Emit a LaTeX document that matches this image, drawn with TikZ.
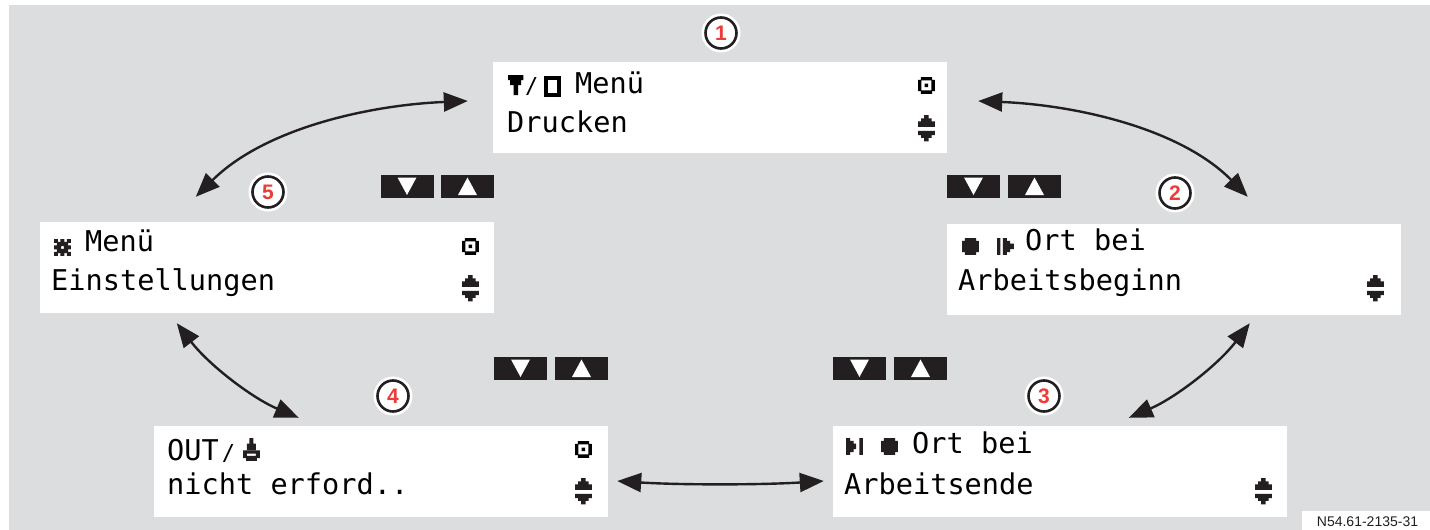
\documentclass[tikz,border=0pt]{standalone}
\usepackage{fontspec}
\setmainfont{Liberation Sans}
\newfontfamily\lcdfont{DejaVu Sans Mono}
\usetikzlibrary{arrows.meta,calc}
\definecolor{ink}{HTML}{231F20}
\definecolor{panelgrey}{HTML}{DCDDDF}
\definecolor{numred}{HTML}{EE3B37}
\tikzset{
  x=1pt,y=-1pt,
  screenbox/.style={rectangle,fill=white,minimum width=454pt,minimum height=91pt,inner sep=0pt},
  lcd/.style={anchor=base west,inner sep=0pt,text=black,font=\lcdfont\fontsize{28.6}{30}\selectfont},
  numcirc/.style={circle,fill=white,draw=ink,line width=2.6pt,minimum size=31pt,inner sep=0pt,
    text=numred,font=\bfseries\fontsize{21}{21}\selectfont,
    preaction={draw=white,line width=8pt}},
  biarrow/.style={draw=ink,line width=2.4pt,{Triangle[length=24pt,width=19pt]}-{Triangle[length=24pt,width=19pt]}},
  keybox/.style={rectangle,fill=ink,minimum width=53pt,minimum height=23pt,inner sep=0pt},
  okicon/.pic={\begin{scope}[x=2.8pt,y=-2.8pt]
    \fill[black] (1,0) rectangle (5,1.2) (1,4.8) rectangle (5,6) (0,1) rectangle (1.2,5) (4.8,1) rectangle (6,5) (2.4,2.4) rectangle (3.6,3.6);
  \end{scope}},
  updownicon/.pic={\begin{scope}[x=2.8pt,y=-2.8pt]
    \fill[ink] (2.2,0) rectangle (3.8,1.2) (1.1,1.2) rectangle (4.9,2.3) (0,2.3) rectangle (6,4.2)
      (0,5.7) rectangle (6,7.2) (1.1,7.2) rectangle (4.9,8.2) (2.2,8.2) rectangle (3.8,9.4);
  \end{scope}},
  discicon/.pic={\begin{scope}[x=2.8pt,y=-2.8pt]
    \fill[ink] (1,0) rectangle (5,6) (0,1) rectangle (6,5);
  \end{scope}},
  startmark/.pic={\begin{scope}[x=2.8pt,y=-2.8pt]
    \fill[ink] (0,0) rectangle (1.2,6) (2.1,0) rectangle (3.5,6) (3.5,1) rectangle (4.7,5) (4.7,2) rectangle (6,4);
  \end{scope}},
  endmark/.pic={\begin{scope}[x=2.8pt,y=-2.8pt]
    \fill[ink] (0,0) rectangle (1.5,6) (1.5,1) rectangle (2.7,5) (2.7,2) rectangle (3.6,4) (4.8,0) rectangle (6,6);
  \end{scope}},
  funnelicon/.pic={\begin{scope}[x=2.8pt,y=-2.8pt]
    \fill[black] (0,0) rectangle (5.5,1.8) (0.8,1.8) rectangle (4.7,3.6) (2,3.6) rectangle (3.6,7.2);
  \end{scope}},
  cardicon/.pic={\draw[black,line width=3.6pt] (1.8,1.8) rectangle (15.2,19.2);},
  gearicon/.pic={\begin{scope}[x=2.8pt,y=-2.8pt]
    \fill[ink,even odd rule] (1,1) rectangle (5,5) (2.5,2.5) rectangle (3.5,3.5);
    \fill[ink] (0,0) rectangle (1.4,1.4) (2.3,0) rectangle (3.7,1.4) (4.6,0) rectangle (6,1.4)
      (0,2.3) rectangle (1.4,3.7) (4.6,2.3) rectangle (6,3.7)
      (0,4.6) rectangle (1.4,6) (2.3,4.6) rectangle (3.7,6) (4.6,4.6) rectangle (6,6);
  \end{scope}},
  bellicon/.pic={\begin{scope}[x=2.8pt,y=-2.8pt]
    \fill[ink] (2.3,0) rectangle (3.7,2) (1.4,2) rectangle (4.6,4.4);
    \fill[ink,even odd rule] (0,4.4) rectangle (6,7.2) (1.4,5.6) rectangle (4.6,6.4);
    \fill[ink] (0.9,7.2) rectangle (5.1,8.3);
  \end{scope}},
  downkey/.pic={\fill[white] (-9.5,-9) -- (9.5,-9) -- (0,8.5) -- cycle;},
  upkey/.pic={\fill[white] (-9.5,8.5) -- (9.5,8.5) -- (0,-9) -- cycle;},
}
\begin{document}
\begin{tikzpicture}
\useasboundingbox (0,0) rectangle (1430,530);
\fill[panelgrey] (9,5) rectangle (1430,530);
\node[rectangle,fill=white,anchor=south east,minimum width=128pt,minimum height=19pt,inner sep=0pt] (reflabel) at (1430,530) {};
\node[anchor=base,inner sep=0pt,text=ink,font=\fontsize{14}{14}\selectfont] (reftext) at (1367.5,526.5) {N54.61-2135-31};

% screens
\node[screenbox] (box1) at (720,107.5) {};
\node[screenbox] (box2) at (1174,269.5) {};
\node[screenbox] (box3) at (1060,471.5) {};
\node[screenbox] (box4) at (381,471.5) {};
\node[screenbox] (box5) at (267,267.5) {};

% screen 1
\pic at (508,75) {funnelicon};
\node[lcd,font=\lcdfont\fontsize{22}{22}\selectfont] (t1s) at (525,93) {/};
\pic at (544,76) {cardicon};
\node[lcd] (t1a) at (575,93) {Menü};
\node[lcd] (t1b) at (507,132) {Drucken};
\pic at (918,77) {okicon};
\pic at (918,115) {updownicon};

% screen 2
\pic at (962,238) {discicon};
\pic at (997,238) {startmark};
\node[lcd] (t2a) at (1025,250) {Ort bei};
\node[lcd] (t2b) at (958,290) {Arbeitsbeginn};
\pic at (1367,275) {updownicon};

% screen 3
\pic at (846,438) {endmark};
\pic at (881,438) {discicon};
\node[lcd] (t3a) at (912,453) {Ort bei};
\node[lcd] (t3b) at (844,494) {Arbeitsende};
\pic at (1255,478) {updownicon};

% screen 4
\node[lcd] (t4a) at (167,460) {OUT\kern3pt{\fontsize{22}{22}\selectfont/}};
\pic at (243,438) {bellicon};
\node[lcd] (t4b) at (167,494) {nicht erford..};
\pic at (575,441) {okicon};
\pic at (575,478) {updownicon};

% screen 5
\pic at (54,239) {gearicon};
\node[lcd] (t5a) at (85,251) {Menü};
\node[lcd] (t5b) at (51,290) {Einstellungen};
\pic at (462,238) {okicon};
\pic at (462,275) {updownicon};

% number marks
\node[numcirc] (n1) at (721,33) {1};
\node[numcirc] (n2) at (1175,193) {2};
\node[numcirc] (n3) at (1044,396) {3};
\node[numcirc] (n4) at (393,396) {4};
\node[numcirc] (n5) at (268,192) {5};

% keys
\node[keybox] (k1) at (407,186.5) {};
\node[keybox] (k2) at (467.5,186.5) {};
\pic at (k1) {downkey}; \pic at (k2) {upkey};
\node[keybox] (k3) at (973.5,186.5) {};
\node[keybox] (k4) at (1034.5,186.5) {};
\pic at (k3) {downkey}; \pic at (k4) {upkey};
\node[keybox] (k5) at (520.5,368.5) {};
\node[keybox] (k6) at (581.5,368.5) {};
\pic at (k5) {downkey}; \pic at (k6) {upkey};
\node[keybox] (k7) at (859.5,368.5) {};
\node[keybox] (k8) at (920.5,368.5) {};
\pic at (k7) {downkey}; \pic at (k8) {upkey};

% connector ends, just clear of the screens
\coordinate (e1w) at ($(box1.west)+(-25,-6.5)$);
\coordinate (e1e) at ($(box1.east)+(31,-6.5)$);
\coordinate (e2n) at ($(box2.north west)+(301,-27)$);
\coordinate (e2s) at ($(box2.south west)+(303,8)$);
\coordinate (e3n) at ($(box3.north west)+(296,-8)$);
\coordinate (e3w) at ($(box3.west)+(-9,9.5)$);
\coordinate (e4e) at ($(box4.east)+(9,9.5)$);
\coordinate (e4n) at ($(box4.north west)+(145,-8)$);
\coordinate (e5s) at ($(box5.south west)+(137,10)$);
\coordinate (e5n) at ($(box5.north west)+(156,-25)$);

% connectors
\draw[biarrow] (e1w) .. controls (370,105) and (265,128) .. (e5n);
\draw[biarrow] (e1e) .. controls (1075,105) and (1180,128) .. (e2n);
\draw[biarrow] (e2s) .. controls (1218,365) and (1175,398) .. (e3n);
\draw[biarrow] (e5s) .. controls (209,365) and (252,398) .. (e4n);
\draw[biarrow] (e4e) .. controls (680,485) and (760,485) .. (e3w);
\end{tikzpicture}
\end{document}
